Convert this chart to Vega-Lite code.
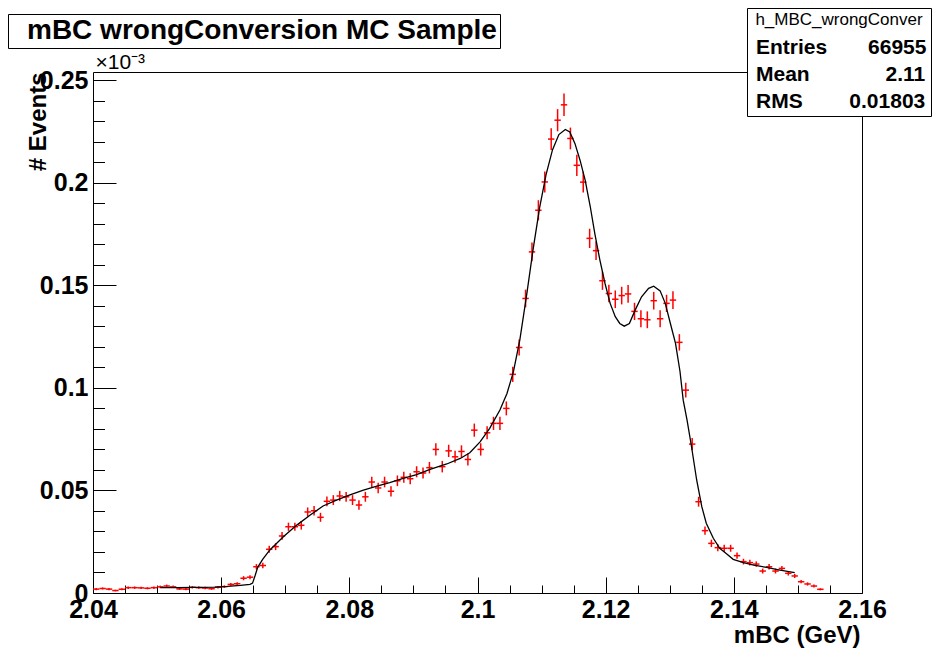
{
  "$schema": "https://vega.github.io/schema/vega-lite/v6.json",
  "width": 769,
  "height": 521,
  "autosize": {"type": "none"},
  "padding": {"left": 93, "top": 72, "right": 75, "bottom": 57},
  "background": "white",
  "config": {
    "view": {"stroke": "black", "strokeWidth": 1},
    "font": "Liberation Sans",
    "axis": {"grid": false, "labelFont": "Liberation Sans", "titleFont": "Liberation Sans", "labelColor": "black", "titleColor": "black", "tickColor": "black", "domainColor": "black", "tickWidth": 1}
  },
  "datasets": {
    "hist": [
      {"x": 2.0405, "y": 0.0019, "e": 0.0005}, {"x": 2.0415, "y": 0.0022, "e": 0.0005}, {"x": 2.0425, "y": 0.0019, "e": 0.0005},
      {"x": 2.0435, "y": 0.0012, "e": 0.0004}, {"x": 2.0445, "y": 0.0018, "e": 0.0005}, {"x": 2.0455, "y": 0.0026, "e": 0.0006},
      {"x": 2.0465, "y": 0.0026, "e": 0.0006}, {"x": 2.0475, "y": 0.0025, "e": 0.0006}, {"x": 2.0485, "y": 0.0023, "e": 0.0005},
      {"x": 2.0495, "y": 0.0026, "e": 0.0006}, {"x": 2.0505, "y": 0.0030, "e": 0.0006}, {"x": 2.0515, "y": 0.0034, "e": 0.0007},
      {"x": 2.0525, "y": 0.0030, "e": 0.0006}, {"x": 2.0535, "y": 0.0020, "e": 0.0005}, {"x": 2.0545, "y": 0.0019, "e": 0.0005},
      {"x": 2.0555, "y": 0.0028, "e": 0.0006}, {"x": 2.0565, "y": 0.0026, "e": 0.0006}, {"x": 2.0575, "y": 0.0024, "e": 0.0006},
      {"x": 2.0585, "y": 0.0021, "e": 0.0005}, {"x": 2.0595, "y": 0.0028, "e": 0.0006}, {"x": 2.0605, "y": 0.0031, "e": 0.0006},
      {"x": 2.0615, "y": 0.0042, "e": 0.0007}, {"x": 2.0625, "y": 0.0045, "e": 0.0008}, {"x": 2.0635, "y": 0.0072, "e": 0.0010},
      {"x": 2.0645, "y": 0.0077, "e": 0.0010}, {"x": 2.0655, "y": 0.0128, "e": 0.0013}, {"x": 2.0665, "y": 0.0134, "e": 0.0013},
      {"x": 2.0675, "y": 0.0213, "e": 0.0017}, {"x": 2.0685, "y": 0.0226, "e": 0.0017}, {"x": 2.0695, "y": 0.0278, "e": 0.0019},
      {"x": 2.0705, "y": 0.0323, "e": 0.0020}, {"x": 2.0715, "y": 0.0323, "e": 0.0020}, {"x": 2.0725, "y": 0.0330, "e": 0.0021},
      {"x": 2.0735, "y": 0.0395, "e": 0.0022}, {"x": 2.0745, "y": 0.0401, "e": 0.0023}, {"x": 2.0755, "y": 0.0369, "e": 0.0022},
      {"x": 2.0765, "y": 0.0447, "e": 0.0024}, {"x": 2.0775, "y": 0.0453, "e": 0.0024}, {"x": 2.0785, "y": 0.0473, "e": 0.0025},
      {"x": 2.0795, "y": 0.0469, "e": 0.0024}, {"x": 2.0805, "y": 0.0453, "e": 0.0024}, {"x": 2.0815, "y": 0.0429, "e": 0.0023},
      {"x": 2.0825, "y": 0.0469, "e": 0.0024}, {"x": 2.0835, "y": 0.0541, "e": 0.0026}, {"x": 2.0845, "y": 0.0512, "e": 0.0026},
      {"x": 2.0855, "y": 0.0541, "e": 0.0026}, {"x": 2.0865, "y": 0.0496, "e": 0.0025}, {"x": 2.0875, "y": 0.0547, "e": 0.0026},
      {"x": 2.0885, "y": 0.0564, "e": 0.0027}, {"x": 2.0895, "y": 0.0557, "e": 0.0027}, {"x": 2.0905, "y": 0.0591, "e": 0.0027},
      {"x": 2.0915, "y": 0.0585, "e": 0.0027}, {"x": 2.0925, "y": 0.0611, "e": 0.0028}, {"x": 2.0935, "y": 0.0700, "e": 0.0030},
      {"x": 2.0945, "y": 0.0616, "e": 0.0028}, {"x": 2.0955, "y": 0.0693, "e": 0.0030}, {"x": 2.0965, "y": 0.0664, "e": 0.0029},
      {"x": 2.0975, "y": 0.0690, "e": 0.0030}, {"x": 2.0985, "y": 0.0651, "e": 0.0029}, {"x": 2.0995, "y": 0.0794, "e": 0.0032},
      {"x": 2.1005, "y": 0.0700, "e": 0.0030}, {"x": 2.1015, "y": 0.0781, "e": 0.0032}, {"x": 2.1025, "y": 0.0827, "e": 0.0032},
      {"x": 2.1035, "y": 0.0827, "e": 0.0032}, {"x": 2.1045, "y": 0.0900, "e": 0.0034}, {"x": 2.1055, "y": 0.1066, "e": 0.0037},
      {"x": 2.1065, "y": 0.1197, "e": 0.0039}, {"x": 2.1075, "y": 0.1436, "e": 0.0043}, {"x": 2.1085, "y": 0.1663, "e": 0.0046},
      {"x": 2.1095, "y": 0.1866, "e": 0.0049}, {"x": 2.1105, "y": 0.2004, "e": 0.0051}, {"x": 2.1115, "y": 0.2213, "e": 0.0053},
      {"x": 2.1125, "y": 0.2305, "e": 0.0054}, {"x": 2.1135, "y": 0.2380, "e": 0.0055}, {"x": 2.1145, "y": 0.2216, "e": 0.0053},
      {"x": 2.1155, "y": 0.2085, "e": 0.0052}, {"x": 2.1165, "y": 0.2003, "e": 0.0051}, {"x": 2.1175, "y": 0.1729, "e": 0.0047},
      {"x": 2.1185, "y": 0.1669, "e": 0.0046}, {"x": 2.1195, "y": 0.1522, "e": 0.0044}, {"x": 2.1205, "y": 0.1460, "e": 0.0043},
      {"x": 2.1215, "y": 0.1432, "e": 0.0043}, {"x": 2.1225, "y": 0.1450, "e": 0.0043}, {"x": 2.1235, "y": 0.1458, "e": 0.0043},
      {"x": 2.1245, "y": 0.1373, "e": 0.0042}, {"x": 2.1255, "y": 0.1337, "e": 0.0041}, {"x": 2.1265, "y": 0.1332, "e": 0.0041},
      {"x": 2.1275, "y": 0.1425, "e": 0.0043}, {"x": 2.1285, "y": 0.1337, "e": 0.0041}, {"x": 2.1295, "y": 0.1412, "e": 0.0042},
      {"x": 2.1305, "y": 0.1428, "e": 0.0043}, {"x": 2.1315, "y": 0.1222, "e": 0.0040}, {"x": 2.1325, "y": 0.0989, "e": 0.0036},
      {"x": 2.1335, "y": 0.0726, "e": 0.0030}, {"x": 2.1345, "y": 0.0445, "e": 0.0024}, {"x": 2.1355, "y": 0.0304, "e": 0.0020},
      {"x": 2.1365, "y": 0.0242, "e": 0.0018}, {"x": 2.1375, "y": 0.0221, "e": 0.0017}, {"x": 2.1385, "y": 0.0218, "e": 0.0017},
      {"x": 2.1395, "y": 0.0218, "e": 0.0017}, {"x": 2.1405, "y": 0.0182, "e": 0.0015}, {"x": 2.1415, "y": 0.0153, "e": 0.0014},
      {"x": 2.1425, "y": 0.0148, "e": 0.0014}, {"x": 2.1435, "y": 0.0141, "e": 0.0013}, {"x": 2.1445, "y": 0.0107, "e": 0.0012},
      {"x": 2.1455, "y": 0.0128, "e": 0.0013}, {"x": 2.1465, "y": 0.0107, "e": 0.0012}, {"x": 2.1475, "y": 0.0120, "e": 0.0012},
      {"x": 2.1485, "y": 0.0096, "e": 0.0011}, {"x": 2.1495, "y": 0.0083, "e": 0.0010}, {"x": 2.1505, "y": 0.0055, "e": 0.0008},
      {"x": 2.1515, "y": 0.0044, "e": 0.0008}, {"x": 2.1525, "y": 0.0034, "e": 0.0007}, {"x": 2.1535, "y": 0.0018, "e": 0.0005}
    ],
    "fit": [
      {"x": 2.0505, "y": 0.0026}, {"x": 2.053, "y": 0.0026}, {"x": 2.056, "y": 0.0027}, {"x": 2.059, "y": 0.0029},
      {"x": 2.061, "y": 0.0032}, {"x": 2.063, "y": 0.0037}, {"x": 2.0645, "y": 0.0042}, {"x": 2.0649, "y": 0.0048},
      {"x": 2.0653, "y": 0.0085}, {"x": 2.0657, "y": 0.0125}, {"x": 2.0665, "y": 0.0165}, {"x": 2.0676, "y": 0.021},
      {"x": 2.0697, "y": 0.0274}, {"x": 2.0718, "y": 0.0331}, {"x": 2.0739, "y": 0.038}, {"x": 2.0759, "y": 0.0424},
      {"x": 2.078, "y": 0.0453}, {"x": 2.0801, "y": 0.0478}, {"x": 2.0822, "y": 0.0502}, {"x": 2.0843, "y": 0.0521},
      {"x": 2.0863, "y": 0.0538}, {"x": 2.0884, "y": 0.0559}, {"x": 2.0905, "y": 0.0577}, {"x": 2.0926, "y": 0.0603},
      {"x": 2.0952, "y": 0.0629}, {"x": 2.0973, "y": 0.0656}, {"x": 2.0988, "y": 0.0684}, {"x": 2.1004, "y": 0.0737},
      {"x": 2.1019, "y": 0.0803}, {"x": 2.1035, "y": 0.0892}, {"x": 2.1046, "y": 0.0973}, {"x": 2.1056, "y": 0.1078},
      {"x": 2.1066, "y": 0.1233}, {"x": 2.1077, "y": 0.146}, {"x": 2.1087, "y": 0.168}, {"x": 2.1097, "y": 0.188},
      {"x": 2.1107, "y": 0.204}, {"x": 2.1117, "y": 0.216}, {"x": 2.1127, "y": 0.2235}, {"x": 2.1137, "y": 0.226},
      {"x": 2.1144, "y": 0.2248}, {"x": 2.1152, "y": 0.2192}, {"x": 2.116, "y": 0.211}, {"x": 2.1168, "y": 0.2013},
      {"x": 2.1176, "y": 0.1883}, {"x": 2.1183, "y": 0.1753}, {"x": 2.1191, "y": 0.1623}, {"x": 2.1199, "y": 0.1509},
      {"x": 2.1207, "y": 0.1412}, {"x": 2.1215, "y": 0.1347}, {"x": 2.1222, "y": 0.1314}, {"x": 2.1229, "y": 0.1301},
      {"x": 2.1237, "y": 0.1314}, {"x": 2.1246, "y": 0.1379}, {"x": 2.1256, "y": 0.1444}, {"x": 2.1267, "y": 0.1485},
      {"x": 2.1275, "y": 0.1496}, {"x": 2.1285, "y": 0.1473}, {"x": 2.1293, "y": 0.1412}, {"x": 2.1301, "y": 0.1314},
      {"x": 2.1309, "y": 0.1217}, {"x": 2.1316, "y": 0.108}, {"x": 2.1321, "y": 0.094}, {"x": 2.1327, "y": 0.0843},
      {"x": 2.1334, "y": 0.0713}, {"x": 2.1342, "y": 0.0551}, {"x": 2.135, "y": 0.0421}, {"x": 2.1357, "y": 0.034},
      {"x": 2.1368, "y": 0.0267}, {"x": 2.1378, "y": 0.0218}, {"x": 2.1389, "y": 0.019}, {"x": 2.1399, "y": 0.0164},
      {"x": 2.1415, "y": 0.0148}, {"x": 2.1431, "y": 0.0136}, {"x": 2.1451, "y": 0.0125}, {"x": 2.1472, "y": 0.0112},
      {"x": 2.1495, "y": 0.0099}
    ]
  },
  "layer": [
    {
      "data": {"name": "hist"},
      "mark": {"type": "errorbar", "color": "red", "thickness": 1.5, "ticks": false},
      "encoding": {
        "x": {"field": "x", "type": "quantitative", "scale": {"domain": [2.04, 2.16], "nice": false, "zero": false},
          "axis": {"orient": "bottom", "values": [2.04, 2.06, 2.08, 2.1, 2.12, 2.14, 2.16], "format": "~g", "labelFontSize": 25, "labelFontWeight": "bold", "labelPadding": 20, "labelOverlap": false, "labelFlush": false, "labelBaseline": "top", "tickSize": -16, "domain": false,
            "title": "mBC (GeV)", "titleFontSize": 24, "titleFontWeight": "bold", "titleAlign": "right", "titleBaseline": "alphabetic", "titleX": 767, "titleY": 49}},
        "y": {"field": "y", "type": "quantitative", "scale": {"domain": [0, 0.254], "nice": false, "zero": false},
          "axis": {"orient": "left", "values": [0, 0.05, 0.1, 0.15, 0.2, 0.25], "format": "~g", "labelFontSize": 25, "labelFontWeight": "bold", "labelPadding": 28, "labelOverlap": false, "labelFlush": false, "tickSize": -23, "domain": false,
            "title": "# Events", "titleFontSize": 24, "titleFontWeight": "bold", "titleAngle": 270, "titleAlign": "right", "titleBaseline": "alphabetic", "titleX": -48, "titleY": 0}},
        "yError": {"field": "e"}
      }
    },
    {
      "data": {"name": "hist"},
      "mark": {"type": "tick", "orient": "horizontal", "color": "red", "size": 6.4, "thickness": 1.5, "opacity": 1},
      "encoding": {
        "x": {"field": "x", "type": "quantitative", "scale": {"domain": [2.04, 2.16], "nice": false, "zero": false},
          "axis": {"orient": "bottom", "values": [2.045, 2.05, 2.055, 2.065, 2.07, 2.075, 2.085, 2.09, 2.095, 2.105, 2.11, 2.115, 2.125, 2.13, 2.135, 2.145, 2.15, 2.155], "labels": false, "tickSize": -8, "domain": false, "title": null}},
        "y": {"field": "y", "type": "quantitative", "scale": {"domain": [0, 0.254], "nice": false, "zero": false},
          "axis": {"orient": "left", "values": [0.01, 0.02, 0.03, 0.04, 0.06, 0.07, 0.08, 0.09, 0.11, 0.12, 0.13, 0.14, 0.16, 0.17, 0.18, 0.19, 0.21, 0.22, 0.23, 0.24], "labels": false, "tickSize": -11.5, "domain": false, "title": null}}
      }
    },
    {
      "data": {"name": "fit"},
      "mark": {"type": "line", "color": "black", "strokeWidth": 1.3, "interpolate": "linear"},
      "encoding": {
        "x": {"field": "x", "type": "quantitative", "scale": {"domain": [2.04, 2.16], "nice": false, "zero": false},
          "axis": {"orient": "top", "labels": false, "ticks": false, "domain": false, "title": "×10⁻³", "titleFontSize": 21, "titleFontWeight": "normal", "titleAlign": "left", "titleBaseline": "alphabetic", "titleX": 2, "titleY": -4}},
        "y": {"field": "y", "type": "quantitative", "scale": {"domain": [0, 0.254], "nice": false, "zero": false}, "axis": null}
      }
    },
    {
      "data": {"values": [{"stat": "Entries"}, {"stat": "Mean"}, {"stat": "RMS"}]},
      "mark": {"type": "point", "opacity": 0},
      "encoding": {
        "color": {"field": "stat", "type": "nominal",
          "legend": {"orient": "none", "legendX": 654, "legendY": -64, "title": "h_MBC_wrongConver", "titleFont": "Liberation Sans", "titleFontSize": 17, "titleFontWeight": "normal", "titleColor": "black", "titleAnchor": "middle", "titlePadding": 8, "titleLimit": 400,
            "labelFont": "Liberation Sans", "labelFontSize": 21, "labelFontWeight": "bold", "labelColor": "black", "labelLimit": 400, "labelOffset": -16,
            "symbolSize": 0, "symbolOpacity": 0, "symbolStrokeWidth": 0, "rowPadding": 5, "padding": 4, "strokeColor": "black", "fillColor": "white",
            "labelExpr": "datum.label === 'Entries' ? 'Entries\u00a0\u00a0\u00a0\u00a0\u00a0\u00a0\u00a066955' : datum.label === 'Mean' ? 'Mean\u00a0\u00a0\u00a0\u00a0\u00a0\u00a0\u00a0\u00a0\u00a0\u00a0\u00a0\u00a0\u00a02.11' : 'RMS\u00a0\u00a0\u00a0\u00a0\u00a0\u00a0\u00a0\u00a00.01803'"}}
      }
    },
    {
      "data": {"values": [{"t": "mBC wrongConversion MC Sample"}]},
      "mark": {"type": "point", "opacity": 0},
      "encoding": {
        "shape": {"field": "t", "type": "nominal",
          "legend": {"orient": "none", "legendX": -85, "legendY": -58, "title": null,
            "labelFont": "Liberation Sans", "labelFontSize": 28, "labelFontWeight": "bold", "labelColor": "black", "labelLimit": 700, "labelOffset": -12,
            "symbolSize": 0, "symbolOpacity": 0, "symbolStrokeWidth": 0, "padding": 3, "strokeColor": "black", "fillColor": "white",
            "labelExpr": "'\u00a0\u00a0' + datum.label + '\u00a0\u00a0'"}}
      }
    }
  ],
  "resolve": {"axis": {"x": "independent", "y": "independent"}}
}
